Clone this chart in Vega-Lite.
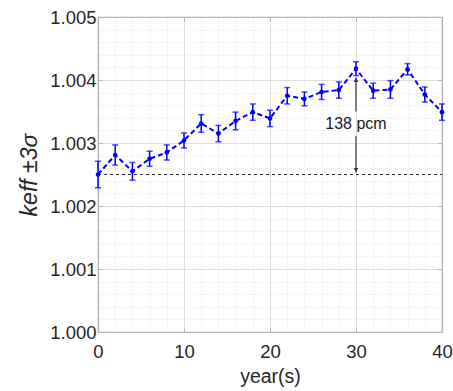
{
  "$schema": "https://vega.github.io/schema/vega-lite/v6.json",
  "width": 344,
  "height": 315,
  "autosize": {"type": "none"},
  "padding": {"left": 98, "top": 17, "right": 11, "bottom": 59},
  "config": {
    "font": "Liberation Sans",
    "view": {"stroke": "#b4b4b4", "strokeWidth": 1.2}
  },
  "datasets": {
    "main": [
      {"year": 0, "k": 1.00250, "err": 0.00021},
      {"year": 2, "k": 1.00281, "err": 0.00016},
      {"year": 4, "k": 1.00255, "err": 0.00014},
      {"year": 6, "k": 1.00275, "err": 0.00012},
      {"year": 8, "k": 1.00285, "err": 0.00012},
      {"year": 10, "k": 1.00304, "err": 0.00012},
      {"year": 12, "k": 1.00331, "err": 0.00014},
      {"year": 14, "k": 1.00315, "err": 0.00013},
      {"year": 16, "k": 1.00335, "err": 0.00014},
      {"year": 18, "k": 1.00349, "err": 0.00013},
      {"year": 20, "k": 1.00339, "err": 0.00013},
      {"year": 22, "k": 1.00375, "err": 0.00013},
      {"year": 24, "k": 1.00370, "err": 0.00011},
      {"year": 26, "k": 1.00381, "err": 0.00012},
      {"year": 28, "k": 1.00384, "err": 0.00013},
      {"year": 30, "k": 1.00418, "err": 0.00011},
      {"year": 32, "k": 1.00383, "err": 0.00012},
      {"year": 34, "k": 1.00385, "err": 0.00014},
      {"year": 36, "k": 1.00417, "err": 0.00009},
      {"year": 38, "k": 1.00377, "err": 0.00012},
      {"year": 40, "k": 1.00349, "err": 0.00013}
    ],
    "base": [{"year": 0, "year2": 40, "k": 1.0025}],
    "arrow": [
      {"year": 30, "k": 1.00350, "k2": 1.00404},
      {"year": 30, "k": 1.00253, "k2": 1.00311}
    ],
    "heads": [
      {"year": 30, "k": 1.004, "shape": "triangle-up"},
      {"year": 30, "k": 1.00257, "shape": "triangle-down"}
    ],
    "label": [{"year": 30, "k": 1.0033, "text": "138 pcm"}]
  },
  "resolve": {"axis": {"x": "independent", "y": "independent"}},
  "layer": [
    {
      "data": {"name": "base"},
      "mark": {"type": "rule", "color": "#333333", "strokeWidth": 1, "strokeDash": [3, 3]},
      "encoding": {
        "x": {
          "field": "year", "type": "quantitative",
          "scale": {"domain": [0, 40], "nice": false},
          "axis": {
            "orient": "bottom",
            "title": "year(s)",
            "values": [0, 2, 4, 6, 8, 10, 12, 14, 16, 18, 20, 22, 24, 26, 28, 30, 32, 34, 36, 38, 40],
            "labelExpr": "datum.value % 10 === 0 ? datum.label : ''",
            "grid": true,
            "gridColor": {"condition": {"test": "datum.value % 10 === 0", "value": "#dedede"}, "value": "#ececec"},
            "gridDash": {"condition": {"test": "datum.value % 10 === 0", "value": []}, "value": [2, 2]},
            "gridWidth": 1,
            "domainColor": "#b4b4b4",
            "domainWidth": 1.2,
            "tickColor": "#b4b4b4",
            "tickSize": -4,
            "tickOpacity": {"condition": {"test": "datum.value % 10 === 0", "value": 1}, "value": 0},
            "labelFontSize": 18.5,
            "labelColor": "#262626",
            "labelPadding": 14,
            "labelFlush": false,
            "titleFontSize": 19.5,
            "titleFontWeight": "normal",
            "titleColor": "#262626",
            "titlePadding": 7
          }
        },
        "x2": {"field": "year2"},
        "y": {
          "field": "k", "type": "quantitative",
          "scale": {"domain": [1.0, 1.005], "nice": false, "zero": false},
          "axis": {
            "orient": "left",
            "title": "keff ±3σ",
            "values": [1.0, 1.0002, 1.0004, 1.0006, 1.0008, 1.001, 1.0012, 1.0014, 1.0016, 1.0018, 1.002, 1.0022, 1.0024, 1.0026, 1.0028, 1.003, 1.0032, 1.0034, 1.0036, 1.0038, 1.004, 1.0042, 1.0044, 1.0046, 1.0048, 1.005],
            "labelExpr": "abs(datum.value*1000 - round(datum.value*1000)) < 1e-6 ? format(datum.value, '.3f') : ''",
            "grid": true,
            "gridColor": {"condition": {"test": "abs(datum.value*1000 - round(datum.value*1000)) < 1e-6", "value": "#dedede"}, "value": "#ececec"},
            "gridDash": {"condition": {"test": "abs(datum.value*1000 - round(datum.value*1000)) < 1e-6", "value": []}, "value": [2, 2]},
            "gridWidth": 1,
            "domainColor": "#b4b4b4",
            "domainWidth": 1.2,
            "tickColor": "#b4b4b4",
            "tickSize": -4,
            "tickOpacity": {"condition": {"test": "abs(datum.value*1000 - round(datum.value*1000)) < 1e-6", "value": 1}, "value": 0},
            "labelFontSize": 18.5,
            "labelColor": "#262626",
            "labelPadding": 6,
            "labelFlush": false,
            "titleFontSize": 23,
            "titleFontWeight": "normal",
            "titleFontStyle": "italic",
            "titleColor": "#262626",
            "titlePadding": 8
          }
        }
      }
    },
    {
      "data": {"name": "main"},
      "mark": {"type": "line", "color": "#0000ff", "strokeWidth": 2, "strokeDash": [5, 3]},
      "encoding": {
        "x": {
          "field": "year", "type": "quantitative",
          "axis": {
            "orient": "top", "title": null, "labels": false, "grid": false,
            "values": [0, 10, 20, 30, 40],
            "domainColor": "#b4b4b4", "domainWidth": 1.2,
            "tickColor": "#b4b4b4", "tickSize": -4
          }
        },
        "y": {
          "field": "k", "type": "quantitative",
          "axis": {
            "orient": "right", "title": null, "labels": false, "grid": false,
            "values": [1.0, 1.001, 1.002, 1.003, 1.004, 1.005],
            "domainColor": "#b4b4b4", "domainWidth": 1.2,
            "tickColor": "#b4b4b4", "tickSize": -4
          }
        }
      }
    },
    {
      "data": {"name": "main"},
      "mark": {"type": "errorbar", "color": "#0000ff", "thickness": 1.5, "ticks": {"size": 6, "color": "#0000ff", "strokeWidth": 1.5}},
      "encoding": {
        "x": {"field": "year", "type": "quantitative", "axis": null},
        "y": {"field": "k", "type": "quantitative", "axis": null},
        "yError": {"field": "err"}
      }
    },
    {
      "data": {"name": "main"},
      "mark": {"type": "point", "filled": true, "color": "#0000ff", "size": 22, "opacity": 1},
      "encoding": {
        "x": {"field": "year", "type": "quantitative", "axis": null},
        "y": {"field": "k", "type": "quantitative", "axis": null}
      }
    },
    {
      "data": {"name": "arrow"},
      "mark": {"type": "rule", "color": "#333333", "strokeWidth": 1.2},
      "encoding": {
        "x": {"field": "year", "type": "quantitative", "axis": null},
        "y": {"field": "k", "type": "quantitative", "axis": null},
        "y2": {"field": "k2"}
      }
    },
    {
      "data": {"name": "heads"},
      "mark": {"type": "point", "filled": true, "color": "#333333", "size": 22, "opacity": 1},
      "encoding": {
        "x": {"field": "year", "type": "quantitative", "axis": null},
        "y": {"field": "k", "type": "quantitative", "axis": null},
        "shape": {"field": "shape", "type": "nominal", "scale": null, "legend": null}
      }
    },
    {
      "data": {"name": "label"},
      "mark": {"type": "text", "fontSize": 16, "color": "#1a1a1a", "font": "Liberation Sans"},
      "encoding": {
        "x": {"field": "year", "type": "quantitative", "axis": null},
        "y": {"field": "k", "type": "quantitative", "axis": null},
        "text": {"field": "text"}
      }
    }
  ]
}
